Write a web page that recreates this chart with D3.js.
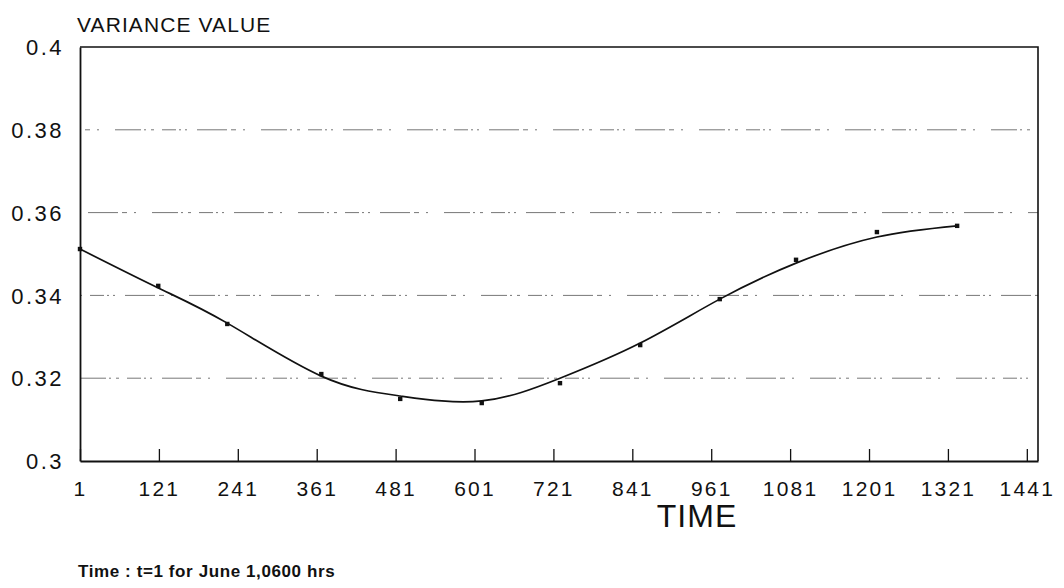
<!DOCTYPE html>
<html>
<head>
<meta charset="utf-8">
<script src="https://cdn.jsdelivr.net/npm/d3@7"></script>
<style>
  body { margin: 0; background: #fff; }
  #chart { width: 1064px; height: 588px; }
  text { font-family: "Liberation Sans", Arial, sans-serif; fill: #111; }
  .tick text { font-size: 21px; letter-spacing: 2.2px; }
  .grid { stroke: #777; stroke-width: 1; stroke-dasharray: 26,3,2,5,3,8,14,3,2,4,2,10,30,4,5,7,2,16; }
</style>
</head>
<body>
<div id="chart"></div>
<script>

// data
const times = [1, 120, 225, 368, 488, 612, 731, 853, 974, 1090, 1213, 1335];
const observed = [0.3512, 0.3423, 0.3331, 0.3210, 0.3150, 0.3140, 0.3188, 0.3280, 0.3391, 0.3486, 0.3553, 0.3568];
const fitted = [0.3512, 0.3418, 0.3333, 0.3205, 0.3157, 0.3145, 0.3200, 0.3285, 0.3391, 0.3478, 0.3541, 0.3568];
const xTicks = [1, 121, 241, 361, 481, 601, 721, 841, 961, 1081, 1201, 1321, 1441];
const yTicks = [0.3, 0.32, 0.34, 0.36, 0.38, 0.4];

const width = 1064;
const height = 588;

const svg = d3.select("#chart")
    .append("svg")
    .attr("width", width)
    .attr("height", height);

const margin = { top: 47, left: 80, right: 26, bottom: 127 };

const xScale = d3.scaleLinear()
    .domain([1, 1458])
    .range([margin.left, width - margin.right]);

const yScale = d3.scaleLinear()
    .domain([0.3, 0.4])
    .range([height - margin.bottom, margin.top]);

// gridlines
svg.selectAll("line.grid")
    .data(yTicks.filter(d => d > 0.3 && d < 0.4))
    .enter()
    .append("line")
        .attr("class", "grid")
        .attr("x1", margin.left)
        .attr("x2", width - margin.right)
        .attr("y1", d => yScale(d))
        .attr("y2", d => yScale(d))
        .attr("stroke-dashoffset", (d, i) => i * 37);

// frame top + right
svg.append("path")
    .attr("d", `M${margin.left},${margin.top}H${width - margin.right}V${height - margin.bottom}`)
    .attr("fill", "none")
    .attr("stroke", "#111")
    .attr("stroke-width", 1.6);

// axes
const xAxis = svg.append("g")
    .attr("transform", `translate(0,${height - margin.bottom})`)
    .call(d3.axisBottom(xScale).tickValues(xTicks).tickSizeInner(-12).tickSizeOuter(0)
        .tickPadding(20).tickFormat(d3.format("d")));

xAxis.select(".domain").attr("stroke", "#111").attr("stroke-width", 1.8);
xAxis.selectAll(".tick line").attr("stroke", "#111").attr("stroke-width", 1.3);

const yAxis = svg.append("g")
    .attr("transform", `translate(${margin.left},0)`)
    .call(d3.axisLeft(yScale).tickValues(yTicks).tickSize(0).tickPadding(16)
        .tickFormat(d => String(+d.toFixed(2))));

yAxis.select(".domain").attr("stroke", "#111").attr("stroke-width", 1.8);
yAxis.selectAll(".tick text").attr("dy", "0.35em").style("font-size", "22px").style("letter-spacing", "2.5px");

// fitted curve
const line = d3.line()
    .x((d, i) => xScale(times[i]))
    .y(d => yScale(d))
    .curve(d3.curveNatural);

svg.append("path")
    .datum(fitted)
    .attr("fill", "none")
    .attr("stroke", "#111")
    .attr("stroke-width", 1.7)
    .attr("d", line);

// observed points
svg.selectAll("rect.obs")
    .data(observed)
    .enter()
    .append("rect")
        .attr("class", "obs")
        .attr("x", (d, i) => xScale(times[i]) - 2.2)
        .attr("y", d => yScale(d) - 2.2)
        .attr("width", 4.4)
        .attr("height", 4.4)
        .attr("fill", "#111");

// labels
svg.append("text")
    .attr("x", 77)
    .attr("y", 32)
    .attr("font-size", 21)
    .attr("letter-spacing", 1.1)
    .text("VARIANCE VALUE");

svg.append("text")
    .attr("x", 697)
    .attr("y", 527)
    .attr("text-anchor", "middle")
    .attr("font-size", 32)
    .attr("letter-spacing", 1)
    .text("TIME");

svg.append("text")
    .attr("x", 78)
    .attr("y", 577)
    .attr("font-size", 17)
    .attr("font-weight", "bold")
    .attr("letter-spacing", 0.6)
    .text("Time : t=1 for June 1,0600 hrs");

</script>
</body>
</html>
